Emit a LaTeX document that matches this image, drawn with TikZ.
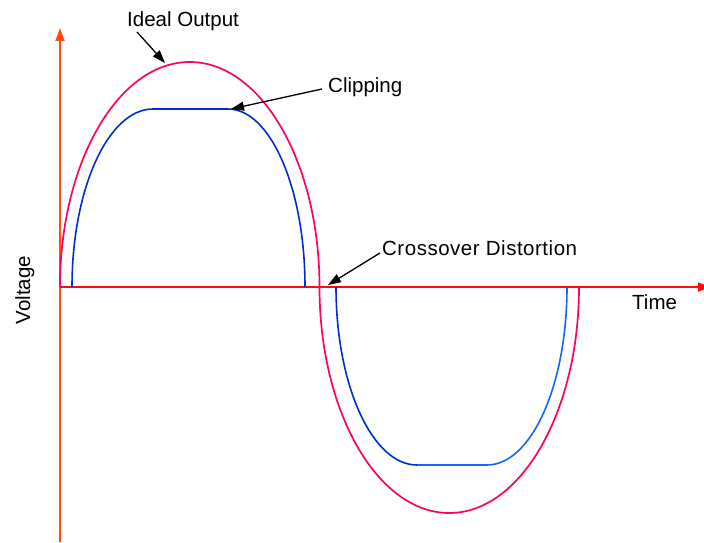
\documentclass[tikz,border=0pt]{standalone}
\usepackage{fontspec}
\setmainfont{Liberation Sans}
\usetikzlibrary{arrows.meta}
\definecolor{idealpink}{RGB}{255,0,100}
\definecolor{clipblue}{RGB}{0,45,210}
\definecolor{clipblue2}{RGB}{20,100,255}
\definecolor{axisred}{RGB}{255,10,10}
\definecolor{axisorange}{RGB}{255,75,20}
\tikzset{
  lbl/.style={inner sep=0pt, font=\fontsize{20.5}{24}\selectfont, text=black},
  callout/.style={draw=black, line width=1.3pt, -{Triangle[length=13pt,width=9pt]}},
  ideal/.style={draw=idealpink, line width=1.7pt},
  clipped/.style={draw=clipblue, line width=1.6pt},
}
\begin{document}
\begin{tikzpicture}[x=1pt,y=1pt]
\useasboundingbox (0,0) rectangle (704,542);
% axes
\coordinate (origin) at (60,255);
\coordinate (ytop) at (60,514);
\coordinate (ybot) at (60,0);
\coordinate (xend) at (710,255);
\draw[axisorange, line width=1.8pt, -{Triangle[length=13pt,width=9pt]}] (ybot) -- (ytop);
\draw[axisred, line width=2pt, -{Triangle[length=12pt,width=9pt]}] (origin) -- (xend);
% ideal output
\draw[ideal] (60,255) arc[start angle=180,end angle=0,x radius=129.75pt,y radius=225pt]
  arc[start angle=180,end angle=360,x radius=129.75pt,y radius=226pt];
% clipped output
\draw[clipped] (72,255) arc[start angle=180,end angle=90,x radius=81pt,y radius=178pt]
  -- (228,433) arc[start angle=90,end angle=0,x radius=77pt,y radius=178pt];
\draw[clipped] (336,255) arc[start angle=180,end angle=270,x radius=81pt,y radius=178pt];
\draw[clipped, draw=clipblue2] (417,77) -- (487,77) arc[start angle=270,end angle=360,x radius=80pt,y radius=178pt];
% labels
\node[lbl, anchor=base west] (ideallbl) at (127,515) {Ideal Output};
\node[lbl, anchor=base west] (cliplbl) at (328,449) {Clipping};
\node[lbl, anchor=base west] (crosslbl) at (382,287) {\addfontfeatures{LetterSpace=2.5}Crossover Distortion};
\node[lbl, anchor=base west] (timelbl) at (632,233) {Time};
\node[lbl, anchor=base, rotate=90] (voltlbl) at (30,252) {Voltage};
% callouts
\coordinate (idealtail) at (137,510);
\coordinate (idealtip) at (165,479);
\coordinate (cliptail) at (322,453);
\coordinate (cliptip) at (231,433);
\coordinate (crosstail) at (380,289);
\coordinate (crosstip) at (328,257);
\draw[callout] (idealtail) -- (idealtip);
\draw[callout] (cliptail) -- (cliptip);
\draw[callout] (crosstail) -- (crosstip);
\end{tikzpicture}
\end{document}
